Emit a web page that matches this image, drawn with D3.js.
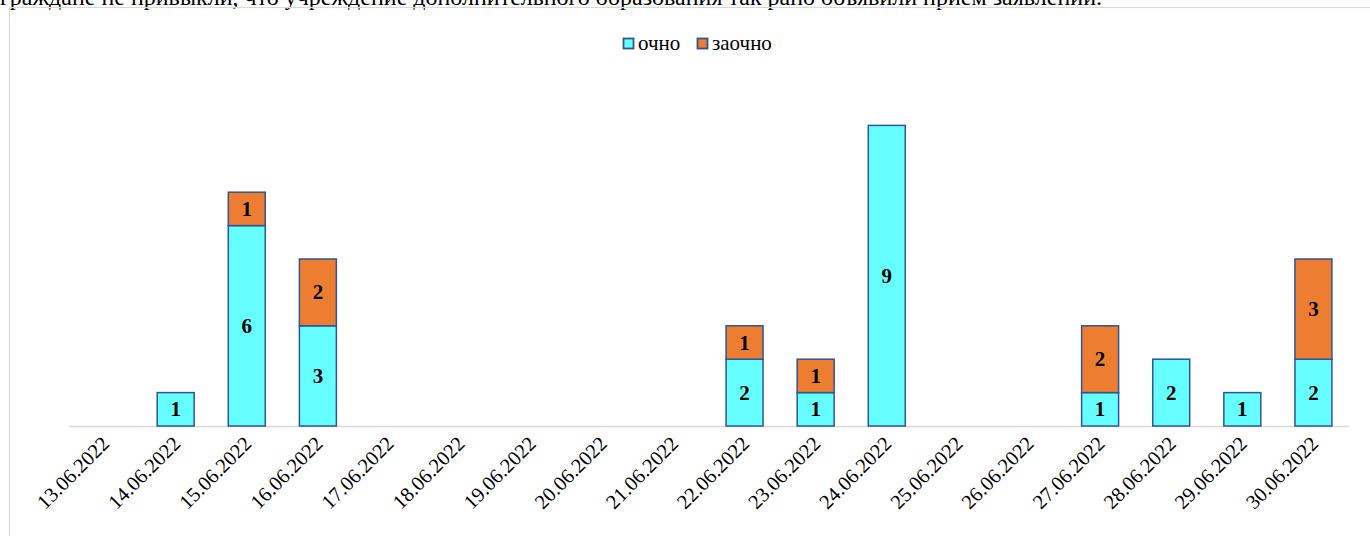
<!DOCTYPE html>
<html><head><meta charset="utf-8">
<script src="https://cdn.jsdelivr.net/npm/d3@7"></script>
<style>html,body{margin:0;padding:0;background:#fff;overflow:hidden}
svg text{font-family:"Liberation Serif","DejaVu Serif",serif}</style>
</head><body>
<svg id="c" width="1370" height="536"></svg>
<script>
const categories = ["13.06.2022","14.06.2022","15.06.2022","16.06.2022","17.06.2022","18.06.2022","19.06.2022","20.06.2022","21.06.2022","22.06.2022","23.06.2022","24.06.2022","25.06.2022","26.06.2022","27.06.2022","28.06.2022","29.06.2022","30.06.2022"];
const ochno  = [0,1,6,3,0,0,0,0,0,2,1,9,0,0,1,2,1,2];
const zaochno = [0,0,1,2,0,0,0,0,0,1,1,0,0,0,2,0,0,3];
const seriesNames = ["очно","заочно"];
const colors = ["#66FFFF","#ED7D31"];
const introText = "граждане не привыкли, что учреждение дополнительного образования так рано объявили прием заявлений.";

const svg = d3.select("#c");

svg.append("text").attr("x",0).attr("y",5).attr("font-size",24).attr("fill","#000").text(introText);
svg.append("rect").attr("x",9.5).attr("y",7.5).attr("width",1400).attr("height",600).attr("fill","none").attr("stroke","#d9d9d9").attr("stroke-width",1.2);

const x = d3.scaleBand().domain(categories).range([69,1349]).paddingInner(0.48).paddingOuter(0.24);
const y = d3.scaleLinear().domain([0,10]).range([426,92]);

const data = categories.map((c,i)=>({cat:c, v:[ochno[i], zaochno[i]]}));
const stack = d3.stack().keys([0,1]).value((d,k)=>d.v[k])(data);

svg.append("line").attr("x1",69).attr("x2",1349).attr("y1",426.5).attr("y2",426.5).attr("stroke","#d9d9d9").attr("stroke-width",1.5);

stack.forEach((layer,k)=>{
  const g = svg.append("g");
  layer.forEach((s,i)=>{
    const val = s[1]-s[0];
    if(val<=0) return;
    g.append("rect").attr("x",x(categories[i])).attr("y",y(s[1])).attr("width",x.bandwidth()).attr("height",y(s[0])-y(s[1]))
      .attr("fill",colors[k]).attr("stroke","#2F5597").attr("stroke-width",1.5);
    g.append("text").attr("x",x(categories[i])+x.bandwidth()/2).attr("y",(y(s[0])+y(s[1]))/2+7)
      .attr("text-anchor","middle").attr("font-weight","bold").attr("font-size",21).text(val);
  });
});

categories.forEach(c=>{
  const cx = x(c)+x.bandwidth()/2+6;
  svg.append("text").attr("transform",`translate(${cx},${445}) rotate(-45)`).attr("text-anchor","end")
    .attr("font-size",20.5).attr("fill","#000").text(c);
});

const leg = svg.append("g");
const legX = [623, 697];
seriesNames.forEach((n,k)=>{
  leg.append("rect").attr("x",legX[k]+0.5).attr("y",38.5).attr("width",10).attr("height",10).attr("fill",colors[k]).attr("stroke","#2F5597").attr("stroke-width",1.8);
  leg.append("text").attr("x",legX[k]+15).attr("y",50).attr("font-size",21).text(n);
});
</script>
</body></html>
